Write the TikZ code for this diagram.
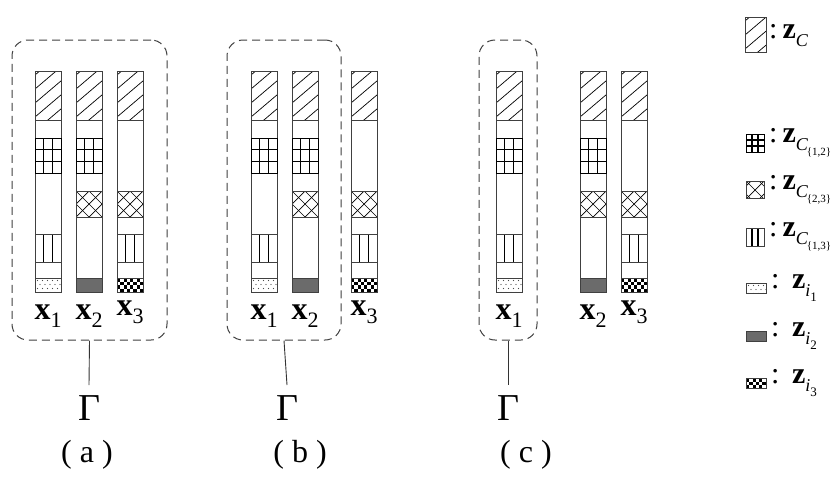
\documentclass[tikz,border=0pt]{standalone}
\usepackage{fontspec}
\setmainfont{Liberation Serif}
\tikzset{
  colline/.style={draw=black!75, line width=0.8pt},
  patline/.style={line width=0.7pt},
  dashbox/.style={draw=black!75, line width=1pt, dash pattern=on 8pt off 5pt, rounded corners=16pt, inner sep=0pt},
  xlab/.style={font=\fontsize{32}{34}\selectfont, inner sep=0pt},
  gam/.style={font=\fontsize{38}{40}\selectfont, inner sep=0pt, inner ysep=10pt, anchor=north},
  sublab/.style={font=\fontsize{32}{34}\selectfont},
  leg/.style={font=\fontsize{30}{32}\selectfont, anchor=west, inner sep=0pt},
  gline/.style={draw=black!80, line width=0.9pt}
}
% pattern macros: #1 x, #2 y (top), #3 w, #4 h
\newcommand\pHatch[4]{%
  \begin{scope}\clip (#1,#2) rectangle ++(#3,#4);
  \foreach \k in {-10,4,...,90} \draw[patline] ({#1},{#2+\k}) -- ++(#3,{-0.85*#3});
  \end{scope}\draw[colline] (#1,#2) rectangle ++(#3,#4);}
\newcommand\pGrid[4]{%
  \draw[line width=1.1pt] ({#1+#3/3},#2) -- ++(0,#4) ({#1+2*#3/3},#2) -- ++(0,#4)
     (#1,{#2+#4/3}) -- ++(#3,0) (#1,{#2+2*#4/3}) -- ++(#3,0);
  \draw[line width=1pt] (#1,#2) rectangle ++(#3,#4);}
\newcommand\pCross[4]{%
  \begin{scope}\clip (#1,#2) rectangle ++(#3,#4);
  \foreach \k in {-39,-26,...,30} {\draw[patline] ({#1+\k},#2) -- ++(#4,#4);
     \draw[patline] ({#1+#3-\k},#2) -- ++(-#4,#4);}
  \end{scope}\draw[colline] (#1,#2) rectangle ++(#3,#4);}
\newcommand\pVert[4]{%
  \draw[line width=1.1pt] ({#1+#3/3},#2) -- ++(0,#4) ({#1+2*#3/3},#2) -- ++(0,#4);
  \draw[colline] (#1,#2) rectangle ++(#3,#4);}
\newcommand\pDots[4]{%
  \begin{scope}\clip (#1,#2) rectangle ++(#3,#4);
  \foreach \i in {0,...,5} \foreach \j in {0,...,3}
    \fill[black!70] ({#1+2.5+\i*5+mod(\j,2)*2.5},{#2+2.5+\j*4}) circle (0.6);
  \end{scope}\draw[colline] (#1,#2) rectangle ++(#3,#4);}
\newcommand\pDark[4]{%
  \fill[black!58] (#1,#2) rectangle ++(#3,#4);
  \draw[colline] (#1,#2) rectangle ++(#3,#4);}
\newcommand\pCheck[4]{%
  \begin{scope}\clip (#1,#2) rectangle ++(#3,#4);
  \foreach \i in {0,...,8} \foreach \j in {0,...,4} {%
    \pgfmathtruncatemacro\chkpar{mod(\i+\j,2)}%
    \ifnum\chkpar=0 \fill ({#1+\i*3.25},{#2+\j*3.5}) rectangle ++(3.25,3.5);\fi}
  \end{scope}\draw[colline] (#1,#2) rectangle ++(#3,#4);}
% column: #1 x, #2 type (1,2,3)
\newcommand\xcol[2]{%
  \draw[colline] (#1,71) rectangle ++(26,221);
  \pHatch{#1}{71}{26}{49}
  \ifnum#2<3 \pGrid{#1}{138}{26}{35}\fi
  \ifnum#2>1 \pCross{#1}{191}{26}{26}\fi
  \ifnum#2=1 \pVert{#1}{234}{26}{28}\fi
  \ifnum#2=3 \pVert{#1}{234}{26}{28}\fi
  \ifnum#2=1 \pDots{#1}{278}{26}{14}\fi
  \ifnum#2=2 \pDark{#1}{278}{26}{14}\fi
  \ifnum#2=3 \pCheck{#1}{278}{26}{14}\fi
}
\newcommand\xl[1]{\textbf{x}\raisebox{-8pt}{\fontsize{22}{22}\selectfont #1}}
\newcommand\zC[1]{\textbf{z}\raisebox{-8pt}{\fontsize{18}{18}\selectfont\itshape C\kern-1pt\raisebox{-5pt}{\fontsize{11}{11}\selectfont\upshape #1}}}
\newcommand\zi[1]{\textbf{z}\raisebox{-8pt}{\fontsize{18}{18}\selectfont\itshape i\raisebox{-5pt}{\fontsize{13}{13}\selectfont\upshape #1}}}
\begin{document}
\begin{tikzpicture}[x=1pt,y=-1pt]
\useasboundingbox (0,0) rectangle (831,483);
\fill[white] (0,0) rectangle (831,483);
% (a)
\xcol{35}{1}\xcol{76}{2}\xcol{117}{3}
% (b)
\xcol{251}{1}\xcol{292}{2}\xcol{351}{3}
% (c)
\xcol{496}{1}\xcol{580}{2}\xcol{621}{3}
% labels
\node[xlab] (ax1) at (48,316) {\xl{1}};
\node[xlab] (ax2) at (89,316) {\xl{2}};
\node[xlab] (ax3) at (130,312) {\xl{3}};
\node[xlab] (bx1) at (264,316) {\xl{1}};
\node[xlab] (bx2) at (305,316) {\xl{2}};
\node[xlab] (bx3) at (364,312) {\xl{3}};
\node[xlab] (cx1) at (509,316) {\xl{1}};
\node[xlab] (cx2) at (593,316) {\xl{2}};
\node[xlab] (cx3) at (634,312) {\xl{3}};
% dashed boxes
\node[dashbox, minimum width=155pt, minimum height=300pt] (boxa) at (89.5,190) {};
\node[dashbox, minimum width=114pt, minimum height=300pt] (boxb) at (284,190) {};
\node[dashbox, minimum width=58pt, minimum height=300pt] (boxc) at (508,190) {};
% Gamma
\node[gam] (ga) at (89,385) {Γ};
\node[gam] (gb) at (287,385) {Γ};
\node[gam] (gc) at (508,385) {Γ};
\draw[gline] (boxa.south) -- (ga.north);
\draw[gline] (boxb.south) -- (gb.north);
\draw[gline] (boxc.south) -- (gc.north);
% sub labels
\node[sublab] (la) at (87,455) {( a )};
\node[sublab] (lb) at (300,455) {( b )};
\node[sublab] (lc) at (526,455) {( c )};
% legend
\pHatch{745}{17}{21}{35}
\pGrid{746}{134}{18}{18}
\pCross{746}{181}{18}{17}
\pVert{746}{228}{18}{18}
\pDots{746}{283}{20}{10}
\pDark{746}{331}{20}{10}
\pCheck{746}{378}{20}{10}
\node[leg] (l1) at (769,38) {:\,\zC{}};
\node[leg] (l2) at (769,143) {:\,\zC{\{1,2\}}};
\node[leg] (l3) at (769,190) {:\,\zC{\{2,3\}}};
\node[leg] (l4) at (769,237) {:\,\zC{\{1,3\}}};
\node[leg] (l5) at (771,288) {:\,\ \zi{1}};
\node[leg] (l6) at (771,336) {:\,\ \zi{2}};
\node[leg] (l7) at (771,383) {:\,\ \zi{3}};
\end{tikzpicture}
\end{document}
